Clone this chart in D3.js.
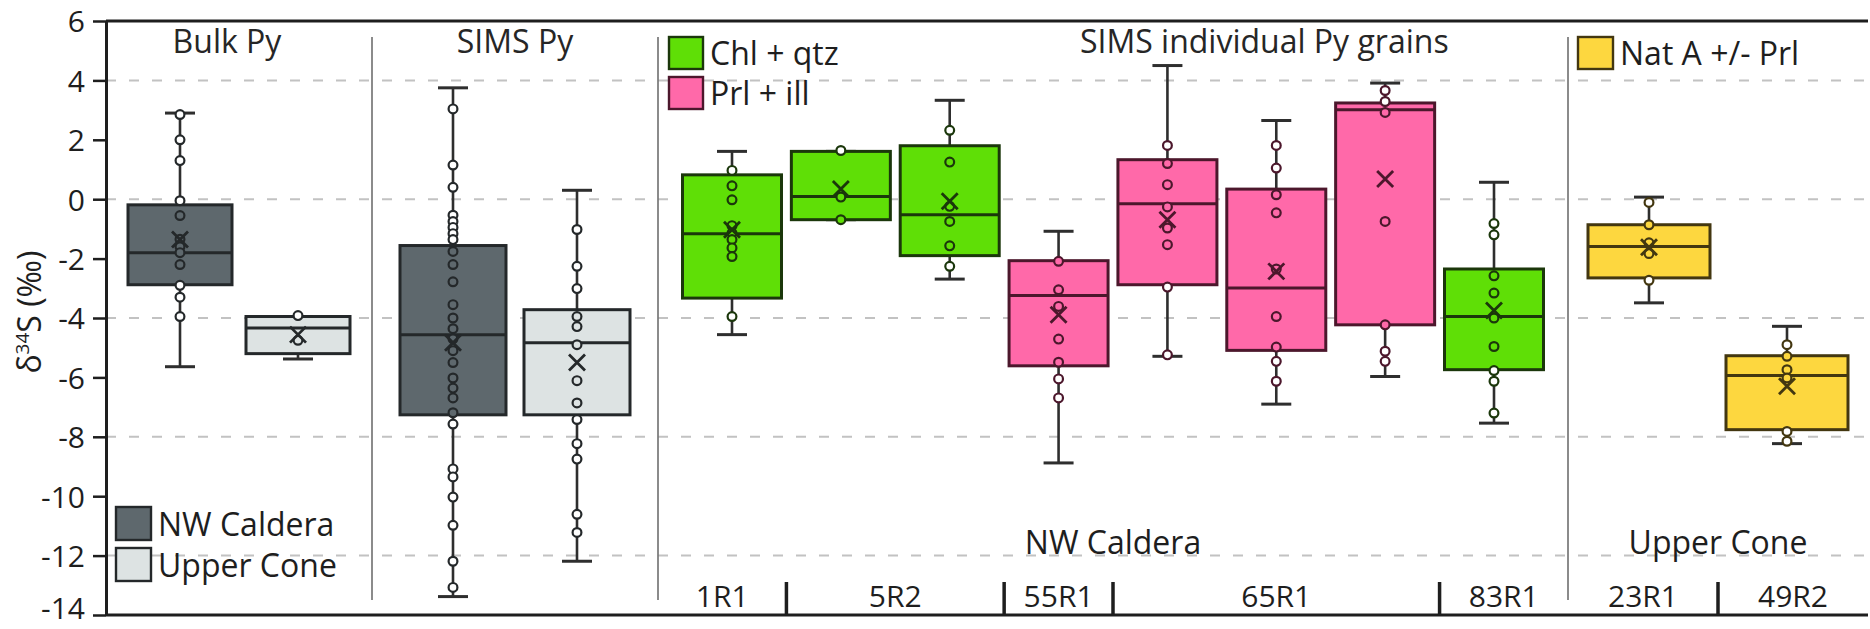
<!DOCTYPE html>
<html>
<head>
<meta charset="utf-8">
<script src="https://cdn.jsdelivr.net/npm/d3@7"></script>
<style>
  html, body { margin: 0; padding: 0; background: #fff; }
  svg { display: block; font-family: "Open Sans", "Noto Sans", sans-serif; }
</style>
</head>
<body>
<svg id="chart" width="1870" height="629"></svg>
<script>
// ---- Data: δ34S (‰) box-plot statistics per sample / group ----
const sectionTitles = ["Bulk Py", "SIMS Py", "SIMS individual Py grains", ""];
const locationLabels = ["", "", "NW Caldera", "Upper Cone"];
const boxSection = [0, 0, 1, 1, 2, 2, 2, 2, 2, 2, 2, 2, 3, 3];
const boxSample = ["", "", "", "", "1R1", "5R2", "5R2", "55R1", "65R1", "65R1", "65R1", "83R1", "23R1", "49R2"];
const boxClass = ["NW Caldera", "Upper Cone", "NW Caldera", "Upper Cone",
  "Chl + qtz", "Chl + qtz", "Chl + qtz", "Prl + ill", "Prl + ill", "Prl + ill", "Prl + ill",
  "Chl + qtz", "Nat A +/- Prl", "Nat A +/- Prl"];

const whiskerLow  = [-5.64, -5.38, -13.38, -12.19, -4.56, -0.69, -2.69, -8.88, -5.29, -6.90, -5.97, -7.54, -3.49, -8.23];
const quartile1   = [-2.88, -5.20, -7.26, -7.26, -3.33, -0.69, -1.90, -5.61, -2.88, -5.09, -4.23, -5.74, -2.65, -7.76];
const medianVal   = [-1.80, -4.34, -4.56, -4.83, -1.16, 0.09, -0.52, -3.24, -0.15, -2.99, 3.01, -3.95, -1.59, -5.94];
const quartile3   = [-0.19, -3.95, -1.56, -3.72, 0.82, 1.61, 1.80, -2.07, 1.33, 0.34, 3.24, -2.35, -0.86, -5.27];
const whiskerHigh = [2.90, -3.95, 3.75, 0.30, 1.61, 1.61, 3.33, -1.08, 4.50, 2.65, 3.91, 0.57, 0.07, -4.28];
const meanVal     = [-1.36, -4.56, -4.83, -5.50, -1.03, 0.34, -0.07, -3.89, -0.69, -2.43, 0.68, -3.75, -1.62, -6.30];

const pointValues = [
  [2.85, 2.0, 1.3, -0.05, -0.55, -1.35, -1.6, -1.8, -2.2, -2.9, -3.3, -3.95],
  [-3.92, -4.75],
  [3.04, 1.15, 0.40, -0.54, -0.75, -0.95, -1.16, -1.36, -1.76, -2.2, -2.78, -3.55, -4.0, -4.36, -4.7,
   -5.1, -5.5, -6.02, -6.36, -6.69, -7.19, -7.57, -9.08, -9.35, -10.03, -10.98, -12.19, -13.07],
  [-1.02, -2.26, -3.01, -3.95, -4.29, -4.9, -6.11, -6.86, -7.42, -8.23, -8.75, -10.61, -11.22],
  [0.97, 0.45, -0.02, -0.89, -1.14, -1.36, -1.64, -1.93, -3.95],
  [1.64, 0.07, -0.69],
  [2.32, 1.25, -0.24, -0.75, -1.57, -2.26],
  [-2.09, -3.05, -3.61, -4.71, -5.49, -6.05, -6.69],
  [1.81, 1.2, 0.49, -0.26, -0.97, -1.53, -2.96, -5.24],
  [1.81, 1.05, 0.15, -0.46, -2.35, -3.95, -4.98, -5.46, -6.13],
  [3.66, 3.29, 2.92, -0.75, -4.23, -5.12, -5.46],
  [-0.82, -1.2, -2.58, -3.16, -4.0, -4.96, -5.77, -6.13, -7.2],
  [-0.11, -0.86, -1.47, -1.83, -2.73],
  [-4.9, -5.29, -5.74, -6.02, -7.82, -8.15]
];

const yTickValues = [-14, -12, -10, -8, -6, -4, -2, 0, 2, 4, 6];
const gridValues = [4, 0, -4, -8, -12];

// ---- Styles ----
const classFill = {
  "NW Caldera": "#5e686d",
  "Upper Cone": "#dde3e3",
  "Chl + qtz": "#5fdf06",
  "Prl + ill": "#ff69a9",
  "Nat A +/- Prl": "#fdd73f"
};
const classStroke = {
  "NW Caldera": "#24282a",
  "Upper Cone": "#24282a",
  "Chl + qtz": "#1b370b",
  "Prl + ill": "#4c172c",
  "Nat A +/- Prl": "#433710"
};
const ink = "#1e1e1e";

// ---- Layout ----
const W = 1870, H = 629;
const plot = { left: 106, right: 1868, top: 21, bottom: 615 };
const sectionBounds = [plot.left, 372, 658, 1568, plot.right];
const sectionInset = [74, 81, 74, 81];
const boxWidth = [104, 106, 99, 122];

const svg = d3.select("#chart");

const y = d3.scaleLinear().domain([-14, 6]).range([plot.bottom, plot.top]);

// one point scale per section places that section's boxes
const boxIndex = d3.range(boxSection.length);
const sectionScales = sectionBounds.slice(0, -1).map((x0, s) => {
  const x1 = sectionBounds[s + 1];
  return d3.scalePoint()
    .domain(boxIndex.filter(i => boxSection[i] === s))
    .range([x0 + sectionInset[s], x1 - sectionInset[s]]);
});
const xBox = i => sectionScales[boxSection[i]](i);

// ---- Grid ----
svg.append("g")
  .selectAll("line")
  .data(gridValues)
  .join("line")
  .attr("x1", plot.left).attr("x2", plot.right)
  .attr("y1", d => y(d)).attr("y2", d => y(d))
  .attr("stroke", "#c2c2c2")
  .attr("stroke-width", 2)
  .attr("stroke-dasharray", "10,13");

// ---- Section dividers ----
svg.append("g")
  .selectAll("line")
  .data(sectionBounds.slice(1, -1))
  .join("line")
  .attr("x1", d => d).attr("x2", d => d)
  .attr("y1", 37).attr("y2", 600)
  .attr("stroke", "#777")
  .attr("stroke-width", 1.7);

// ---- Frame (top and bottom) ----
svg.append("g")
  .selectAll("line")
  .data([6, -14])
  .join("line")
  .attr("x1", plot.left).attr("x2", plot.right)
  .attr("y1", d => y(d)).attr("y2", d => y(d))
  .attr("stroke", ink)
  .attr("stroke-width", 3);

// ---- Y axis ----
const yAxis = svg.append("g")
  .attr("transform", `translate(${plot.left},0)`)
  .call(d3.axisLeft(y).tickValues(yTickValues).tickFormat(d => String(d))
    .tickSize(13).tickSizeOuter(0).tickPadding(8));
yAxis.select(".domain").attr("stroke", ink).attr("stroke-width", 3);
yAxis.selectAll(".tick line").attr("stroke", ink).attr("stroke-width", 2.5);
yAxis.selectAll(".tick text")
  .attr("fill", ink)
  .attr("font-size", 30)
  .attr("font-family", "'Open Sans', sans-serif")
  .attr("dy", d => d === -14 ? "0.1em" : "0.36em");

// axis title: δ34S (‰)
const yTitle = svg.append("text")
  .attr("transform", `translate(41,${y(-3.8)}) rotate(-90)`)
  .attr("text-anchor", "middle")
  .attr("fill", ink)
  .attr("font-size", 32);
yTitle.append("tspan").text("δ");
yTitle.append("tspan").attr("font-size", 19).attr("dy", -12).text("34");
yTitle.append("tspan").attr("dy", 12).text("S (‰)");

// ---- Sample boundaries and labels along the bottom ----
const sampleSpans = [];
boxIndex.forEach(i => {
  if (!boxSample[i]) return;
  const last = sampleSpans[sampleSpans.length - 1];
  if (last && last.name === boxSample[i] && last.section === boxSection[i]) {
    last.boxes.push(i);
  } else {
    sampleSpans.push({ name: boxSample[i], section: boxSection[i], boxes: [i] });
  }
});
sampleSpans.forEach((sp, k) => {
  const prev = sampleSpans[k - 1], next = sampleSpans[k + 1];
  const first = sp.boxes[0], lastBox = sp.boxes[sp.boxes.length - 1];
  sp.x0 = (prev && prev.section === sp.section)
    ? (xBox(prev.boxes[prev.boxes.length - 1]) + xBox(first)) / 2
    : sectionBounds[sp.section];
  sp.x1 = (next && next.section === sp.section)
    ? (xBox(lastBox) + xBox(next.boxes[0])) / 2
    : sectionBounds[sp.section + 1];
});

svg.append("g")
  .selectAll("line")
  .data(sampleSpans.filter((sp, k) => sampleSpans[k + 1] && sampleSpans[k + 1].section === sp.section))
  .join("line")
  .attr("x1", d => d.x1).attr("x2", d => d.x1)
  .attr("y1", 582).attr("y2", plot.bottom)
  .attr("stroke", ink)
  .attr("stroke-width", 3.5);

svg.append("g")
  .selectAll("text")
  .data(sampleSpans)
  .join("text")
  .attr("x", d => (d.x0 + d.x1) / 2)
  .attr("y", 607)
  .attr("text-anchor", "middle")
  .attr("fill", ink)
  .attr("font-size", 30)
  .text(d => d.name);

// location labels above the sample names
svg.append("g")
  .selectAll("text")
  .data(locationLabels.map((t, s) => ({ t, s })).filter(d => d.t))
  .join("text")
  .attr("x", d => (sectionBounds[d.s] + sectionBounds[d.s + 1]) / 2)
  .attr("y", 554)
  .attr("text-anchor", "middle")
  .attr("fill", ink)
  .attr("font-size", 32)
  .text(d => d.t);

// ---- Section titles ----
const titleX = [
  (sectionBounds[0] + sectionBounds[1]) / 2 - 12,
  (sectionBounds[1] + sectionBounds[2]) / 2,
  xBox(9) - 12,
  0
];
svg.append("g")
  .selectAll("text")
  .data(sectionTitles.map((t, s) => ({ t, s })).filter(d => d.t))
  .join("text")
  .attr("x", d => titleX[d.s])
  .attr("y", 53)
  .attr("text-anchor", "middle")
  .attr("fill", "#262626")
  .attr("font-size", 32)
  .text(d => d.t);

// ---- Boxes ----
const capHalf = 15, meanHalf = 8;
const boxes = svg.append("g")
  .selectAll("g")
  .data(boxIndex)
  .join("g");

boxes.each(function (i) {
  const g = d3.select(this);
  const cx = xBox(i);
  const w = boxWidth[boxSection[i]];
  const fill = classFill[boxClass[i]];
  const stroke = classStroke[boxClass[i]];

  // whisker stem and caps
  g.append("line")
    .attr("x1", cx).attr("x2", cx)
    .attr("y1", y(whiskerHigh[i])).attr("y2", y(whiskerLow[i]))
    .attr("stroke", "#2e2e2e").attr("stroke-width", 2.6);
  g.selectAll("line.cap")
    .data([whiskerHigh[i], whiskerLow[i]])
    .join("line")
    .attr("class", "cap")
    .attr("x1", cx - capHalf).attr("x2", cx + capHalf)
    .attr("y1", d => y(d)).attr("y2", d => y(d))
    .attr("stroke", "#2e2e2e").attr("stroke-width", 3);

  // interquartile box
  g.append("rect")
    .attr("x", cx - w / 2)
    .attr("y", y(quartile3[i]))
    .attr("width", w)
    .attr("height", Math.max(0, y(quartile1[i]) - y(quartile3[i])))
    .attr("fill", fill)
    .attr("stroke", stroke)
    .attr("stroke-width", 3);

  // median
  g.append("line")
    .attr("x1", cx - w / 2).attr("x2", cx + w / 2)
    .attr("y1", y(medianVal[i])).attr("y2", y(medianVal[i]))
    .attr("stroke", stroke).attr("stroke-width", 3);

  // individual analyses
  g.selectAll("circle")
    .data(pointValues[i])
    .join("circle")
    .attr("cx", cx)
    .attr("cy", d => y(d))
    .attr("r", 4.4)
    .attr("fill", d => (d >= quartile1[i] && d <= quartile3[i]) ? fill : "#fff")
    .attr("stroke", stroke)
    .attr("stroke-width", 2.2);

  // mean marker
  const my = y(meanVal[i]);
  g.append("path")
    .attr("d", `M${cx - meanHalf},${my - meanHalf}L${cx + meanHalf},${my + meanHalf}M${cx - meanHalf},${my + meanHalf}L${cx + meanHalf},${my - meanHalf}`)
    .attr("stroke", stroke)
    .attr("stroke-width", 2.8)
    .attr("fill", "none");
});

// ---- Legends ----
function legend(items, x0, y0, rowStep, swW, swH) {
  const g = svg.append("g").attr("transform", `translate(${x0},${y0})`);
  const rows = g.selectAll("g").data(items).join("g")
    .attr("transform", (d, k) => `translate(0,${k * rowStep})`);
  rows.append("rect")
    .attr("width", swW).attr("height", swH)
    .attr("fill", d => classFill[d])
    .attr("stroke", d => classStroke[d])
    .attr("stroke-width", 2.4);
  rows.append("text")
    .attr("x", swW + 7)
    .attr("y", swH - 4)
    .attr("fill", ink)
    .attr("font-size", 32)
    .text(d => d);
}
legend(["NW Caldera", "Upper Cone"], 116, 507, 41, 35, 33);
legend(["Chl + qtz", "Prl + ill"], 669, 37, 40, 34, 32);
legend(["Nat A +/- Prl"], 1578, 37, 40, 35, 32);
</script>
</body>
</html>
